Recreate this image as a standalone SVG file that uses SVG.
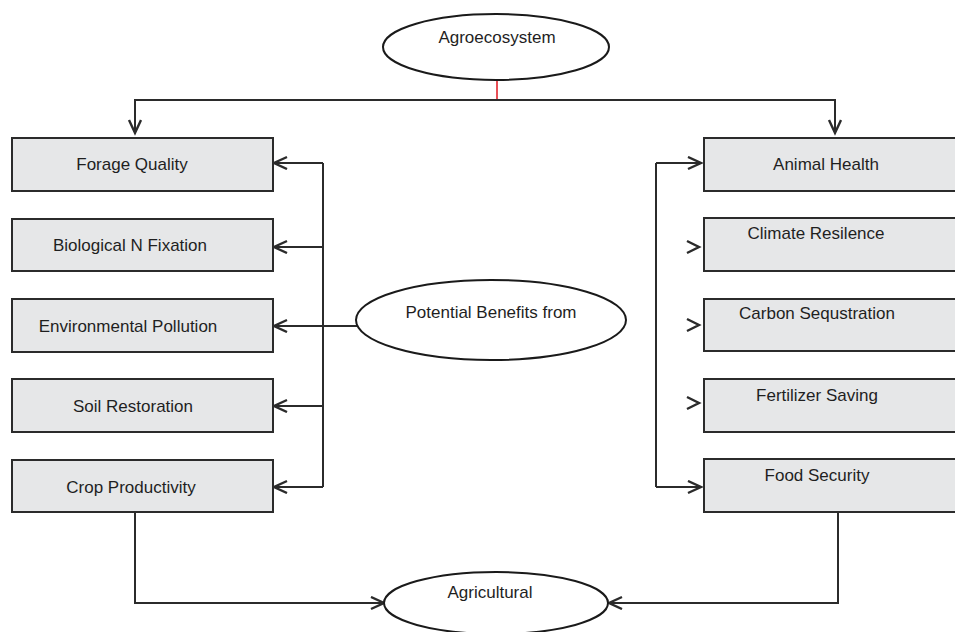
<svg xmlns="http://www.w3.org/2000/svg" width="955" height="632" viewBox="0 0 955 632">
<style>
.box{fill:#e6e7e8;stroke:#2b2b2b;stroke-width:2}
.ell{fill:#fff;stroke:#1a1a1a;stroke-width:2}
.t{font-family:"Liberation Sans",Arial,sans-serif;font-size:17px;fill:#1f1f1f;text-anchor:middle}
.c{fill:none;stroke:#2b2b2b;stroke-width:2}
.ch{fill:none;stroke:#2b2b2b;stroke-width:2.4;stroke-linejoin:miter}
</style>
<defs>
<marker id="ah" markerUnits="userSpaceOnUse" markerWidth="20" markerHeight="20" refX="14" refY="7" orient="auto">
<path d="M1,1 L14,7 L1,13" fill="none" stroke="#2b2b2b" stroke-width="2.4"/>
</marker>
</defs>
<g id="connectors">
<line x1="497" y1="80" x2="497" y2="100" stroke="#e0141e" stroke-width="1.5"/>
<polyline class="c" points="497,100 135,100 135,133" marker-end="url(#ah)"/>
<polyline class="c" points="497,100 835,100 835,133" marker-end="url(#ah)"/>
<line class="c" x1="323" y1="163" x2="323" y2="487"/>
<line class="c" x1="323" y1="163" x2="274" y2="163" marker-end="url(#ah)"/>
<line class="c" x1="323" y1="247" x2="274" y2="247" marker-end="url(#ah)"/>
<line class="c" x1="357" y1="326" x2="274" y2="326" marker-end="url(#ah)"/>
<line class="c" x1="323" y1="406" x2="274" y2="406" marker-end="url(#ah)"/>
<line class="c" x1="323" y1="487" x2="274" y2="487" marker-end="url(#ah)"/>
<line class="c" x1="656" y1="163" x2="656" y2="487"/>
<line class="c" x1="656" y1="163" x2="701" y2="163" marker-end="url(#ah)"/>
<line class="c" x1="656" y1="487" x2="701" y2="487" marker-end="url(#ah)"/>
<polyline class="ch" points="687,241 699,247 687,253"/>
<polyline class="ch" points="687,319 699,325 687,331"/>
<polyline class="ch" points="687,397 699,403 687,409"/>
<polyline class="c" points="135,513 135,603 384,603" marker-end="url(#ah)"/>
<polyline class="c" points="838,513 838,603 609,603" marker-end="url(#ah)"/>
</g>
<g id="agroecosystem">
<ellipse class="ell" cx="496" cy="47" rx="113" ry="33"/>
<text class="t" x="497" y="43">Agroecosystem</text>
</g>
<g id="potential-benefits">
<ellipse class="ell" cx="491" cy="320" rx="135" ry="40"/>
<text class="t" x="491" y="318">Potential Benefits from</text>
</g>
<g id="agricultural">
<ellipse class="ell" cx="496" cy="603" rx="112" ry="31"/>
<text class="t" x="490" y="598">Agricultural</text>
</g>
<g id="forage-quality">
<rect class="box" x="12" y="138" width="261" height="53"/>
<text class="t" x="132" y="170">Forage Quality</text>
</g>
<g id="biological-n-fixation">
<rect class="box" x="12" y="219" width="261" height="52"/>
<text class="t" x="130" y="251">Biological N Fixation</text>
</g>
<g id="environmental-pollution">
<rect class="box" x="12" y="299" width="261" height="53"/>
<text class="t" x="128" y="332">Environmental Pollution</text>
</g>
<g id="soil-restoration">
<rect class="box" x="12" y="379" width="261" height="53"/>
<text class="t" x="133" y="412">Soil Restoration</text>
</g>
<g id="crop-productivity">
<rect class="box" x="12" y="460" width="261" height="52"/>
<text class="t" x="131" y="493">Crop Productivity</text>
</g>
<g id="animal-health">
<rect class="box" x="704" y="138" width="262" height="53"/>
<text class="t" x="826" y="170">Animal Health</text>
</g>
<g id="climate-resilence">
<rect class="box" x="704" y="218" width="262" height="53"/>
<text class="t" x="816" y="239">Climate Resilence</text>
</g>
<g id="carbon-sequstration">
<rect class="box" x="704" y="299" width="262" height="52"/>
<text class="t" x="817" y="319">Carbon Sequstration</text>
</g>
<g id="fertilizer-saving">
<rect class="box" x="704" y="379" width="262" height="53"/>
<text class="t" x="817" y="401">Fertilizer Saving</text>
</g>
<g id="food-security">
<rect class="box" x="704" y="459" width="262" height="53"/>
<text class="t" x="817" y="481">Food Security</text>
</g>
</svg>
